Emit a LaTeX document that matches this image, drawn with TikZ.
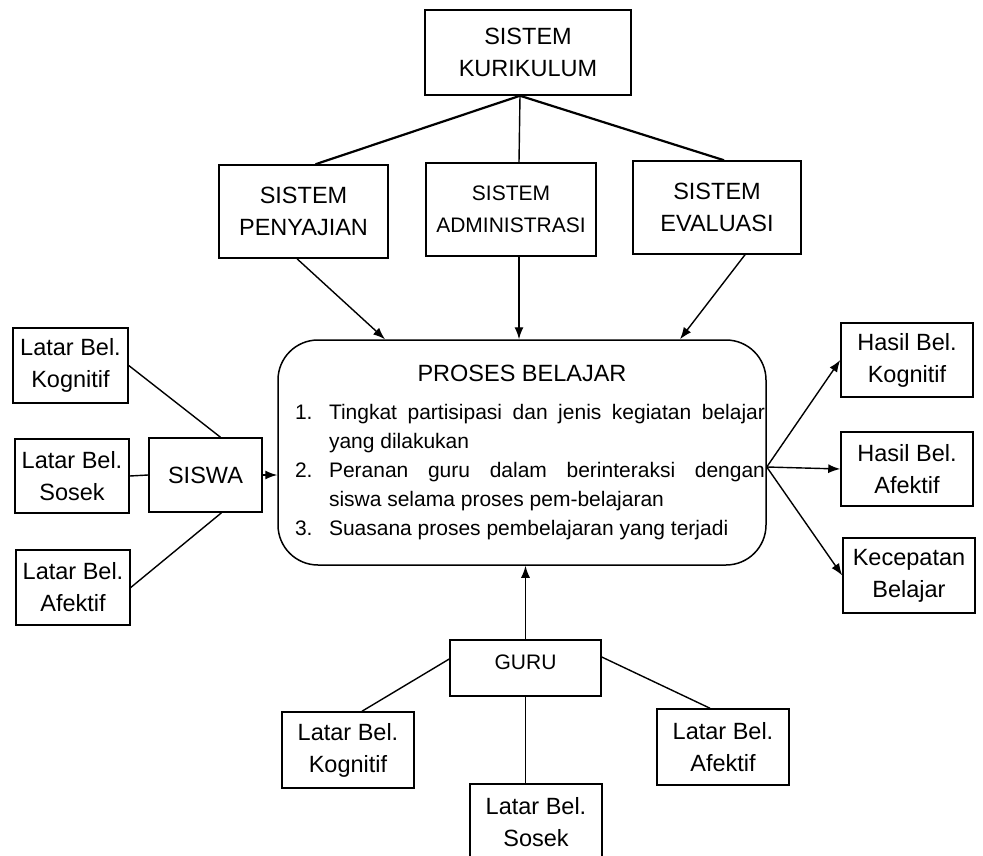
\documentclass[tikz,border=0pt]{standalone}
\usepackage{fontspec}
\setmainfont{Liberation Sans}
\usetikzlibrary{arrows.meta}

\begin{document}
\begin{tikzpicture}[x=1pt,y=-1pt,
  box/.style={draw,line width=1.5pt,inner sep=0pt,align=center,font=\fontsize{23.5}{32}\selectfont},
  link/.style={line width=1.4pt},
  arr/.style={line width=1.4pt,-{Latex[length=12pt,width=9pt]}}]
\useasboundingbox (0,0) rectangle (983,856);
% sistem boxes
\node[box,minimum width=206pt,minimum height=85pt] (kur) at (528,52.5) {SISTEM\\KURIKULUM};
\node[box,minimum width=169pt,minimum height=93pt] (pen) at (303.5,211.5) {SISTEM\\PENYAJIAN};
\node[box,minimum width=170pt,minimum height=93pt,font=\fontsize{21}{32}\selectfont] (adm) at (511,209.5) {SISTEM\\ADMINISTRASI};
\node[box,minimum width=168pt,minimum height=93pt] (eva) at (717,207.5) {SISTEM\\EVALUASI};
% proses belajar
\node[box,rounded corners=40pt,minimum width=488pt,minimum height=225pt,text width=486pt,align=justify,font=\fontsize{21}{29}\selectfont] (proses) at (522,452.5)
{\hyphenpenalty=10000 \vspace*{6pt}{\centering\fontsize{23.5}{29}\selectfont PROSES BELAJAR\par}
\vspace{3pt}\leftskip=16pt
\hangindent=34pt\hangafter=1\noindent\makebox[34pt][l]{1.}Tingkat partisipasi dan jenis kegiatan belajar\linebreak yang dilakukan\par
\hangindent=34pt\hangafter=1\noindent\makebox[34pt][l]{2.}Peranan guru dalam berinteraksi dengan\linebreak siswa selama proses pem-belajaran\par
\hangindent=34pt\hangafter=1\noindent\makebox[34pt][l]{3.}Suasana proses pembelajaran yang terjadi\par};
% siswa side
\node[box,minimum width=115pt,minimum height=75pt] (lk) at (70.5,365.5) {Latar Bel.\\Kognitif};
\node[box,minimum width=114pt,minimum height=74pt] (ls) at (72,476) {Latar Bel.\\Sosek};
\node[box,minimum width=114pt,minimum height=75pt] (la) at (73,587.5) {Latar Bel.\\Afektif};
\node[box,minimum width=113pt,minimum height=74pt] (siswa) at (205.5,475) {SISWA};
% hasil side
\node[box,minimum width=132pt,minimum height=74pt] (hk) at (907,360) {Hasil Bel.\\Kognitif};
\node[box,minimum width=132pt,minimum height=74pt] (ha) at (907,469) {Hasil Bel.\\Afektif};
\node[box,minimum width=132pt,minimum height=75pt] (kc) at (909,575.5) {Kecepatan\\Belajar};
% guru side
\node[box,minimum width=151pt,minimum height=56pt,font=\fontsize{21}{32}\selectfont] (guru) at (525.5,668) {\raisebox{12pt}{GURU}};
\node[box,minimum width=132pt,minimum height=76pt] (gk) at (348,750) {Latar Bel.\\Kognitif};
\node[box,minimum width=132pt,minimum height=76pt] (gs) at (536,822) {Latar Bel.\\Sosek};
\node[box,minimum width=132pt,minimum height=76pt] (ga) at (723,747) {Latar Bel.\\Afektif};
% connectors
\draw[link,line width=2.2pt] ([xshift=-8pt]kur.south) -- ([xshift=12pt]pen.north);
\draw[link] ([xshift=-8pt]kur.south) -- ([xshift=8pt]adm.north);
\draw[link,line width=2.2pt] ([xshift=-8pt]kur.south) -- ([xshift=7pt]eva.north);
\draw[arr] ([xshift=-6.5pt]pen.south) -- ([xshift=-137pt]proses.north);
\draw[arr] ([xshift=8pt]adm.south) -- ([xshift=-3pt]proses.north);
\draw[arr] ([xshift=28pt]eva.south) -- ([xshift=158pt]proses.north);
\draw[link] (lk.east) -- ([xshift=15pt]siswa.north);
\draw[link] (ls.east) -- (siswa.west);
\draw[link] (la.east) -- ([xshift=16pt]siswa.south);
\draw[arr] (siswa.east) -- (siswa.east -| proses.west);
\coordinate (fork) at ([yshift=-14.5pt]proses.east);
\draw[arr] (fork) -- (hk.west);
\draw[arr] (fork) -- (ha.west);
\draw[arr] (fork) -- (kc.west);
\draw[arr] (guru.north) -- (guru.north |- proses.south);
\draw[link] ([yshift=9pt]guru.west) -- ([xshift=14pt]gk.north);
\draw[link] (guru.south) -- (guru.south |- gs.north);
\draw[link] ([yshift=11pt]guru.east) -- ([xshift=-13pt]ga.north);
\end{tikzpicture}
\end{document}
